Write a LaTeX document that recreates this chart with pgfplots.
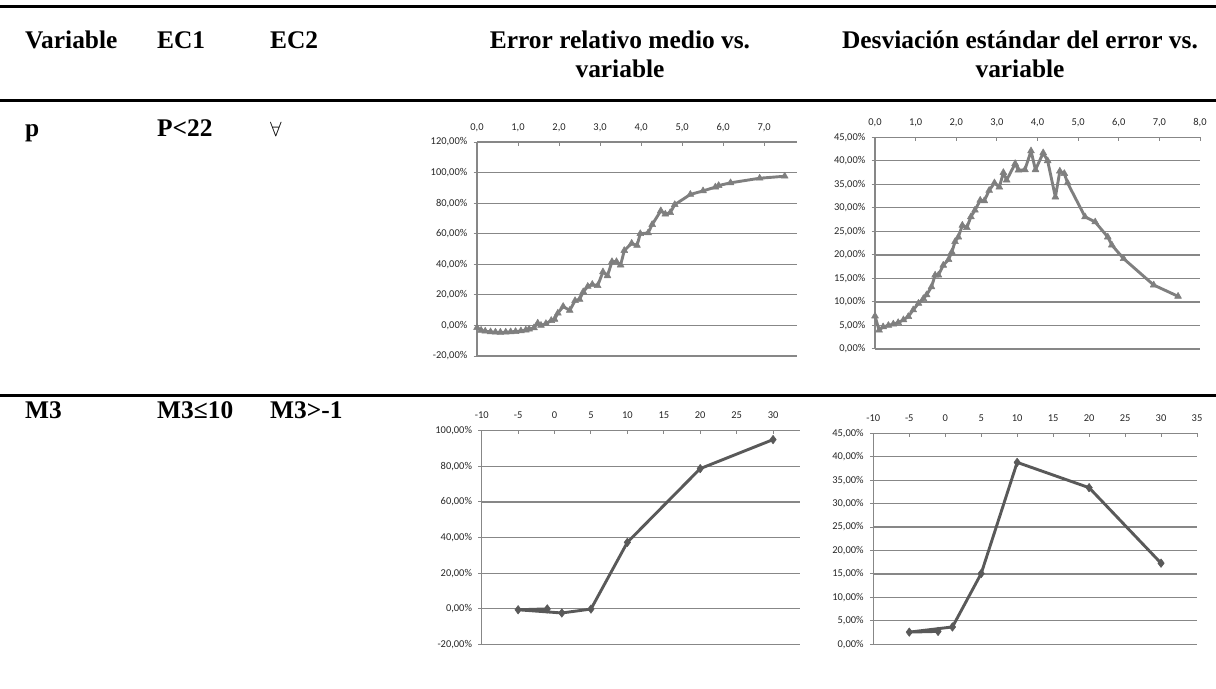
\documentclass[border=0pt]{standalone}
\usepackage{pgfplots}
\pgfplotsset{compat=1.18}
\usepackage{fontspec}
\setmainfont{Liberation Serif}
\newfontfamily\calibri{Carlito}
\definecolor{gridc}{HTML}{878787}
\definecolor{lineA}{HTML}{7F7F7F}
\definecolor{lineB}{HTML}{595959}
\pgfplotsset{
  xl/.style={
    scale only axis, clip=false,
    axis x line*=top, axis y line*=left,
    axis line style={draw=gridc, line width=1.2bp},
    ymajorgrids, grid style={draw=gridc, line width=1.2bp},
    xtick align=inside, ytick align=outside,
    major tick length=3.5bp, tick style={draw=gridc, line width=1bp},
    tick label style={font=\calibri\fontsize{10.5}{12}\selectfont, text=black!85},
    xticklabel style={inner sep=0pt, anchor=base, yshift=12bp},
    yticklabel style={inner sep=0pt, anchor=east, xshift=-6bp},
  },
  serA/.style={color=lineA, line width=2.9bp, line join=round, mark=triangle*, mark size=4bp, mark options={solid, fill=lineA, draw=lineA, line width=0.5bp}},
  serB/.style={color=lineB, line width=2.9bp, line join=round, mark=diamond*, mark size=4.3bp, mark options={solid, fill=lineB, draw=lineB, line width=0.5bp}},
}
\pgfplotstableread{
x y
0 -1.5
0.10 -3.2
0.20 -3.8
0.33 -4.2
0.45 -4.4
0.57 -4.5
0.70 -4.4
0.82 -4.2
0.94 -4.0
1.07 -3.6
1.19 -3.0
1.27 -2.4
1.39 -1.6
1.48 1.5
1.56 0.0
1.68 1.2
1.81 3.2
1.89 4.0
1.97 8.0
2.10 12.4
2.26 9.8
2.39 16.2
2.50 17.0
2.59 22.0
2.70 25.5
2.81 26.8
2.94 26.0
3.07 35.0
3.18 32.5
3.29 41.7
3.40 41.7
3.50 39.5
3.59 49.0
3.77 53.7
3.90 52.3
3.98 60.0
4.17 60.5
4.27 66.0
4.48 75.0
4.59 72.8
4.71 73.8
4.82 79.0
5.20 85.7
5.51 88.0
5.81 90.5
5.89 91.5
6.18 93.3
6.89 96.3
7.50 97.6
}\tabA
\pgfplotstableread{
x y
0 7.0
0.10 4.0
0.20 4.7
0.33 5.0
0.45 5.3
0.57 5.6
0.70 6.2
0.82 6.9
0.94 8.3
1.07 9.7
1.19 10.7
1.27 11.5
1.39 13.2
1.48 15.7
1.56 15.7
1.68 17.8
1.81 19.0
1.89 20.6
1.97 22.8
2.05 23.8
2.15 26.3
2.26 25.8
2.36 28.1
2.46 29.5
2.59 31.6
2.69 31.5
2.81 33.7
2.94 35.3
3.06 34.4
3.16 37.5
3.24 35.9
3.45 39.4
3.53 38.0
3.69 38.1
3.84 42.1
3.95 38.1
4.14 41.7
4.25 40.0
4.44 32.3
4.55 37.8
4.66 37.3
4.74 35.3
5.17 28.1
5.42 27.0
5.73 23.8
5.83 22.1
6.12 19.2
6.86 13.6
7.46 11.2
}\tabB
\pgfplotstableread{
x y
-1 -0.1
-5 -0.6
1 -2.4
5 -0.2
10 37.3
20 78.7
30 95.0
}\tabC
\pgfplotstableread{
x y
-1 2.75
-5 2.6
1 3.7
5 15.1
10 38.8
20 33.4
30 17.3
}\tabD
\begin{document}
\begin{tikzpicture}
\path[use as bounding box] (0,0) rectangle (1216bp,-689bp);
% table rules
\draw[line width=3bp] (0,-6.7bp) -- (1216bp,-6.7bp);
\draw[line width=3bp] (0,-100bp) -- (1216bp,-100bp);
\draw[line width=3bp] (0,-395bp) -- (1216bp,-395bp);
% header
\begin{scope}[every node/.style={inner sep=0pt, font=\bfseries\fontsize{25.5}{30}\selectfont}]
\node[anchor=base west] at (25bp,-48bp) {Variable};
\node[anchor=base west] at (157bp,-48bp) {EC1};
\node[anchor=base west] at (270bp,-48bp) {EC2};
\node[anchor=base] at (620bp,-48bp) {Error relativo medio vs.};
\node[anchor=base] at (620bp,-77bp) {variable};
\node[anchor=base] at (1020bp,-48bp) {Desviación estándar del error vs.};
\node[anchor=base] at (1020bp,-77bp) {variable};
\node[anchor=base west] at (25bp,-136bp) {p};
\node[anchor=base west] at (157bp,-136bp) {P<22};
\node[anchor=base west] at (25bp,-418bp) {M3};
\node[anchor=base west] at (157bp,-418bp) {M3≤10};
\node[anchor=base west] at (270bp,-418bp) {M3>-1};
\end{scope}
\node[anchor=base west, inner sep=0pt, font=\fontsize{20}{22}\selectfont] at (270bp,-136bp) {$\forall$};
% chart 1
\begin{axis}[xl, at={(477bp,-142bp)}, anchor=north west, width=320bp, height=214bp,
  xmin=0, xmax=7.8, ymin=-20, ymax=120,
  xtick={0,1,...,7}, xticklabels={{0,0},{1,0},{2,0},{3,0},{4,0},{5,0},{6,0},{7,0}},
  ytick={-20,0,...,120}, yticklabels={{-20,00\%},{0,00\%},{20,00\%},{40,00\%},{60,00\%},{80,00\%},{100,00\%},{120,00\%}}]
\addplot[serA] table[x=x,y=y] {\tabA};
\end{axis}
% chart 2
\begin{axis}[xl, at={(875bp,-137.3bp)}, anchor=north west, width=325bp, height=211.7bp,
  xmin=0, xmax=8, ymin=0, ymax=45,
  xtick={0,1,...,8}, xticklabels={{0,0},{1,0},{2,0},{3,0},{4,0},{5,0},{6,0},{7,0},{8,0}},
  ytick={0,5,...,45}, yticklabels={{0,00\%},{5,00\%},{10,00\%},{15,00\%},{20,00\%},{25,00\%},{30,00\%},{35,00\%},{40,00\%},{45,00\%}}]
\addplot[serA] table[x=x,y=y] {\tabB};
\end{axis}
% chart 3
\begin{axis}[xl, at={(481.7bp,-430.7bp)}, anchor=north west, width=318.3bp, height=213.6bp,
  xmin=-10, xmax=33.7, ymin=-20, ymax=100,
  xtick={-10,-5,...,30}, xticklabels={-10,-5,0,5,10,15,20,25,30},
  ytick={-20,0,...,100}, yticklabels={{-20,00\%},{0,00\%},{20,00\%},{40,00\%},{60,00\%},{80,00\%},{100,00\%}}]
\addplot[serB] table[x=x,y=y] {\tabC};
\end{axis}
% chart 4
\begin{axis}[xl, at={(873.3bp,-433.3bp)}, anchor=north west, width=323.7bp, height=211bp,
  xmin=-10, xmax=35, ymin=0, ymax=45,
  xtick={-10,-5,...,35}, xticklabels={-10,-5,0,5,10,15,20,25,30,35},
  ytick={0,5,...,45}, yticklabels={{0,00\%},{5,00\%},{10,00\%},{15,00\%},{20,00\%},{25,00\%},{30,00\%},{35,00\%},{40,00\%},{45,00\%}}]
\addplot[serB] table[x=x,y=y] {\tabD};
\end{axis}
\end{tikzpicture}
\end{document}
